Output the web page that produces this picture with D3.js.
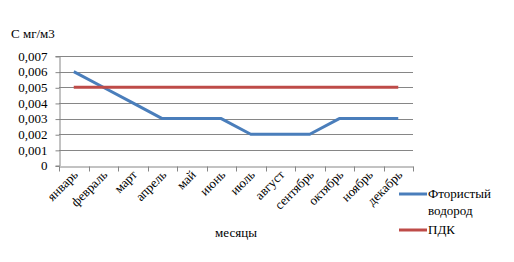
<!DOCTYPE html>
<html>
<head>
<meta charset="utf-8">
<script src="https://cdn.jsdelivr.net/npm/d3@7"></script>
<style>
	body { margin: 0; background: #fff; }
	.grid line { stroke: #868686; stroke-width: 1; }
	.axis path, .axis line { stroke: #868686; }
</style>
</head>
<body>
<div id="chart"></div>
<script>
var months = ['январь', 'февраль', 'март', 'апрель', 'май', 'июнь', 'июль', 'август', 'сентябрь', 'октябрь', 'ноябрь', 'декабрь'];
var hf = [0.006, 0.005, 0.004, 0.003, 0.003, 0.003, 0.002, 0.002, 0.002, 0.003, 0.003, 0.003];
var pdk = [0.005, 0.005, 0.005, 0.005, 0.005, 0.005, 0.005, 0.005, 0.005, 0.005, 0.005, 0.005];
var yTicks = [0, 0.001, 0.002, 0.003, 0.004, 0.005, 0.006, 0.007];
var seriesNames = ['Фтористый водород', 'ПДК'];
var colors = ['#4a7ebb', '#be4b48'];

var width = 514;
var height = 262;
var font = '"Liberation Serif", "Times New Roman", serif';

var svg = d3.select('#chart').append('svg')
	.attr('width', width)
	.attr('height', height);

var x0 = 59, x1 = 413, y0 = 165.5, y1 = 56;

var x = d3.scaleBand()
	.domain(months)
	.range([x0, x1]);

var y = d3.scaleLinear()
	.domain([0, 0.007])
	.range([y0, y1]);

var fmt = function(d) { return d === 0 ? '0' : d3.format('.3f')(d).replace('.', ','); };

function styleText(sel) {
	sel.style('font-family', font).style('font-size', '13px').attr('fill', '#000');
}

// grid
svg.append('g')
	.attr('class', 'grid')
	.selectAll('line')
	.data(yTicks.slice(1))
	.enter().append('line')
		.attr('x1', x0)
		.attr('x2', x1)
		.attr('y1', function(d) { return Math.round(y(d)) + 0.5; })
		.attr('y2', function(d) { return Math.round(y(d)) + 0.5; });

// y axis
var gy = svg.append('g')
	.attr('class', 'axis')
	.attr('transform', 'translate(' + (x0 + 0.5) + ',0)')
	.call(d3.axisLeft(y).tickValues(yTicks).tickFormat(fmt).tickSizeOuter(0).tickSize(4).tickPadding(8));
gy.selectAll('.tick line').attr('transform', 'translate(0,0.5)');
styleText(gy.selectAll('text'));

// x axis
var gx = svg.append('g')
	.attr('class', 'axis')
	.attr('transform', 'translate(0,' + (Math.round(y0) + 0.5) + ')')
	.call(d3.axisBottom(x).tickSize(0).tickSizeOuter(0).tickFormat(''));

// category boundary ticks
var edges = months.map(function(m) { return x(m); }).concat([x1]);
gx.selectAll('.edge')
	.data(edges)
	.enter().append('line')
		.attr('x1', function(d) { return Math.round(d) + 0.5; })
		.attr('x2', function(d) { return Math.round(d) + 0.5; })
		.attr('y1', 0)
		.attr('y2', 5)
		.attr('stroke', '#868686');

// month labels
svg.selectAll('.month')
	.data(months)
	.enter().append('text')
		.attr('text-anchor', 'end')
		.attr('transform', function(d) {
			return 'translate(' + (x(d) + x.bandwidth() / 2 + 5) + ',' + (y0 + 10) + ') rotate(-45)';
		})
		.text(function(d) { return d; })
		.call(styleText);

// lines
var line = d3.line()
	.x(function(d, i) { return x(months[i]) + x.bandwidth() / 2; })
	.y(function(d) { return y(d); });

[hf, pdk].forEach(function(s, i) {
	svg.append('path')
		.datum(s)
		.attr('fill', 'none')
		.attr('stroke', colors[i])
		.attr('stroke-width', 3)
		.attr('stroke-linejoin', 'round')
		.attr('d', line);
});

// titles
svg.append('text')
	.attr('x', 11)
	.attr('y', 38)
	.text('С мг/м3')
	.call(styleText);

svg.append('text')
	.attr('x', 236)
	.attr('y', 237)
	.attr('text-anchor', 'middle')
	.text('месяцы')
	.call(styleText);

// legend
var legend = svg.append('g');
var legendY = [194, 230];
seriesNames.forEach(function(name, i) {
	legend.append('line')
		.attr('x1', 399)
		.attr('x2', 427)
		.attr('y1', legendY[i])
		.attr('y2', legendY[i])
		.attr('stroke', colors[i])
		.attr('stroke-width', 3);
	var words = name.split(' ');
	var t = legend.append('text')
		.attr('x', 428)
		.attr('y', legendY[i] + 4)
		.call(styleText);
	words.forEach(function(w, j) {
		t.append('tspan')
			.attr('x', 428)
			.attr('dy', j === 0 ? 0 : 17)
			.text(w);
	});
});
</script>
</body>
</html>
